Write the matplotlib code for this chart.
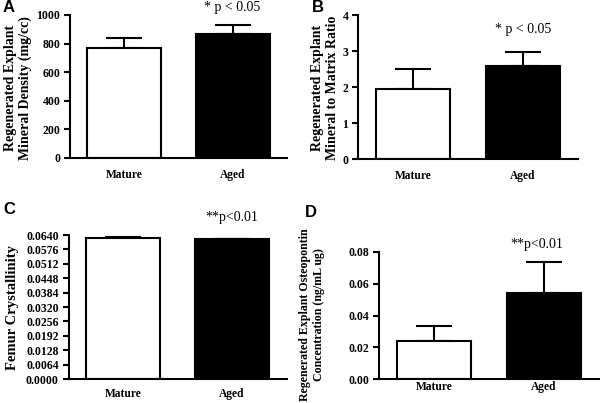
import matplotlib
matplotlib.use("Agg")
import matplotlib.pyplot as plt
import numpy as np

groups = ["Mature", "Aged"]

density_mean = [770, 865]
density_err = [72, 65]

ratio_mean = [1.94, 2.59]
ratio_err = [0.57, 0.37]

cryst_mean = [0.0628, 0.0621]
cryst_err = [0.0002, 0.0003]

opn_mean = [0.0239, 0.0542]
opn_err = [0.0096, 0.0193]

W, H = 600, 403
fig = plt.figure(figsize=(6, 4.03), dpi=100)
serif = "Liberation Serif"

def axes_px(l, r, t, b):
    return fig.add_axes([l / W, 1 - b / H, (r - l) / W, (b - t) / H])

def draw(ax, means, errs, ylim, ticks, fmt, xpad):
    x = np.arange(len(groups))
    ax.bar(x, means, width=0.68, color=["white", "black"], edgecolor="black",
           linewidth=1.5, zorder=2)
    ax.errorbar(x, means, yerr=[np.zeros(len(errs)), errs], fmt="none",
                ecolor="black", elinewidth=1.5, capsize=13, capthick=1.5, zorder=1)
    ax.set_xlim(-0.5, 1.5)
    ax.set_ylim(*ylim)
    ax.set_yticks(ticks)
    ax.set_yticklabels([fmt.format(t) for t in ticks], fontfamily=serif,
                       fontweight="bold", fontsize=8.5)
    ax.set_xticks(x)
    ax.set_xticklabels(groups, fontfamily=serif, fontweight="bold", fontsize=8.3)
    for lbl in ax.get_xticklabels():
        lbl.set_verticalalignment("baseline")
    ax.tick_params(axis="x", length=0, pad=xpad)
    ax.tick_params(axis="y", length=4, width=1.5, pad=3)
    for s in ["top", "right"]:
        ax.spines[s].set_visible(False)
    for s in ["left", "bottom"]:
        ax.spines[s].set_linewidth(1.5)

axA = axes_px(70, 287, 15, 158)
draw(axA, density_mean, density_err, (0, 1000), np.arange(0, 1001, 200), "{:.0f}", 14.5)
axB = axes_px(358, 578, 15, 159)
draw(axB, ratio_mean, ratio_err, (0, 4), np.arange(0, 5, 1), "{:.0f}", 14.5)
axC = axes_px(68.5, 286.5, 235, 379)
draw(axC, cryst_mean, cryst_err, (0, 0.064), np.arange(11) * 0.0064, "{:.4f}", 13)
axD = axes_px(379, 599, 252, 379)
draw(axD, opn_mean, opn_err, (0, 0.08), np.arange(0, 0.081, 0.02), "{:.2f}", 7.8)

def ftext(x, y, s, **kw):
    fig.text(x / W, 1 - y / H, s, **kw)

# y labels
lab = dict(fontfamily=serif, fontweight="bold", rotation=90,
           ha="center", va="center", linespacing=1.15, multialignment="center")
ftext(18, 88, "Regenerated Explant\nMineral Density (mg/cc)", fontsize=10, **lab)
ftext(325, 88, "Regenerated Explant\nMineral to Matrix Ratio", fontsize=10, **lab)
ftext(13, 307, "Femur Crystallinity", fontsize=10.5, **lab)
ftext(312, 315, "Regenerated Explant Osteopontin\nConcentration (ng/mL ug)", fontsize=8.6, **lab)

# panel letters
let = dict(fontfamily="Liberation Sans", fontweight="bold", fontsize=12,
           ha="left", va="top")
ftext(3, 0, "A", **let)
ftext(312, 0, "B", **let)
ftext(3, 202, "C", **let)
ftext(305, 205, "D", **let)

# significance annotations
ann = dict(fontfamily=serif, fontsize=10, ha="center", va="center")
ftext(232, 7, "* p < 0.05", **ann)
ftext(523, 30, "* p < 0.05", **ann)
ftext(232, 218, "**p<0.01", **ann)
ftext(537, 245, "**p<0.01", **ann)

fig.savefig("out.png", dpi=100)
